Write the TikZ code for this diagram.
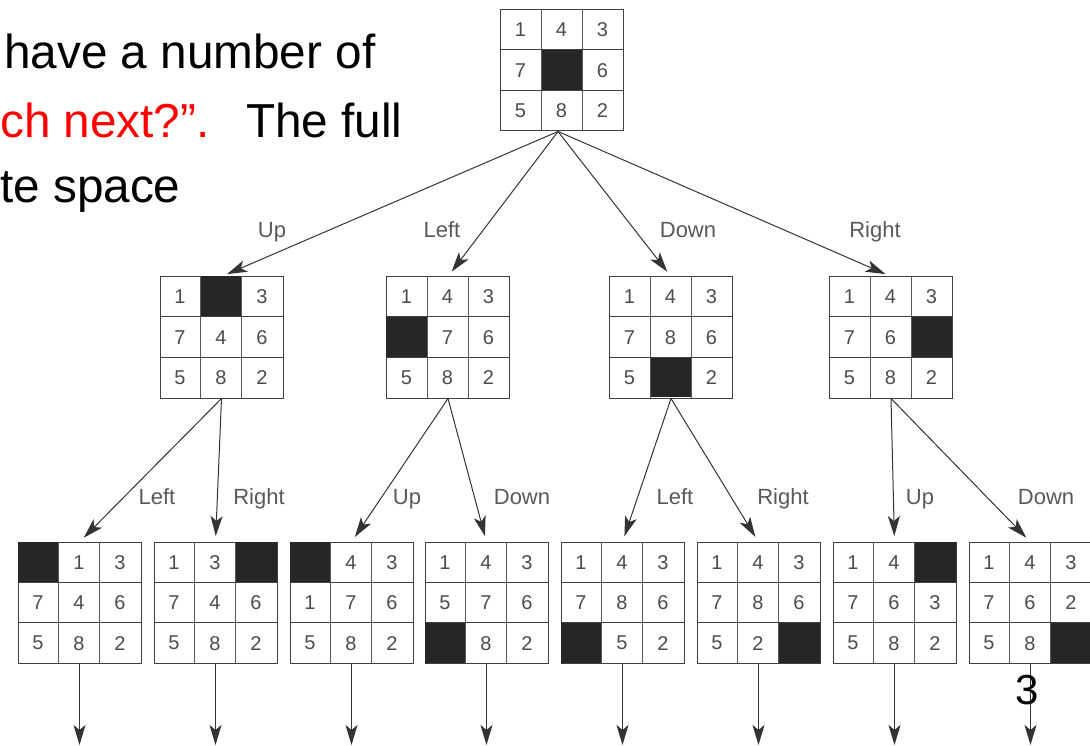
\documentclass[tikz,border=0pt]{standalone}
\usepackage{fontspec}
\setmainfont{Liberation Sans}
\usetikzlibrary{arrows.meta,positioning}

\newcommand{\board}[3]{%
  \node[board] (#1) at (#2) {};
  \begin{scope}[shift={(#1.north west)}]
    \foreach \v [count=\k from 0] in {#3} {
      \pgfmathtruncatemacro{\cc}{mod(\k,3)}
      \pgfmathtruncatemacro{\rr}{div(\k,3)}
      \ifnum\v=0
        \fill[hole] (41*\cc,40.33*\rr) rectangle ++(41,40.33);
      \else
        \node[tile] at (41*\cc+20.5,40.33*\rr+20.5) {\v};
      \fi
    }
    \draw[vline] (41,0) -- (41,121) (82,0) -- (82,121);
    \draw[hline] (0,40.33) -- (123,40.33) (0,80.67) -- (123,80.67);
  \end{scope}
}

\begin{document}
\begin{tikzpicture}[
  x=1pt, y=-1pt,
  board/.style={draw=black!75,line width=1pt,minimum width=123pt,minimum height=121pt,inner sep=0pt},
  hole/.style={fill=black!85},
  tile/.style={text=black!70,font=\fontsize{20}{20}\selectfont,inner sep=0pt},
  vline/.style={draw=black!65,line width=0.6pt},
  hline/.style={draw=black!75,line width=1.1pt},
  lbl/.style={text=black!65,font=\fontsize{22}{22}\selectfont,inner sep=0pt,anchor=base},
  txt/.style={font=\fontsize{47.7}{57}\selectfont,inner sep=0pt,anchor=base west},
  arr/.style={-{Stealth[length=20pt,width=12pt,inset=5pt]},draw=black!80,line width=1pt,shorten >=6pt}
]
\clip (0,0) rectangle (1090,746);

\node[txt] (line1) at (4,69) {have a number of};
\node[txt,text=red] (line2) at (0,138) {ch next?”.};
\node[txt] (line2b) at (246,138) {The full};
\node[txt] (line3) at (0,203) {te space};

\board{top}{562,70.5}{1,4,3,7,0,6,5,8,2}

\board{m1}{221.5,337.5}{1,0,3,7,4,6,5,8,2}
\board{m2}{448,337.5}{1,4,3,0,7,6,5,8,2}
\board{m3}{671,337.5}{1,4,3,7,8,6,5,0,2}
\board{m4}{891,337.5}{1,4,3,7,6,0,5,8,2}

\board{b1}{79.5,603}{0,1,3,7,4,6,5,8,2}
\board{b2}{215.5,603}{1,3,0,7,4,6,5,8,2}
\board{b3}{351.5,603}{0,4,3,1,7,6,5,8,2}
\board{b4}{486.5,603}{1,4,3,5,7,6,0,8,2}
\board{b5}{622.5,603}{1,4,3,7,8,6,0,5,2}
\board{b6}{758.5,603}{1,4,3,7,8,6,5,2,0}
\board{b7}{894.5,603}{1,4,0,7,6,3,5,8,2}
\board{b8}{1030.5,603}{1,4,3,7,6,2,5,8,0}

\foreach \n in {1,...,4}
  \draw[arr] ([xshift=-4pt]top.south) -- (m\n.north);

\draw[arr] (m1.south) -- (b1.north);
\draw[arr] (m1.south) -- (b2.north);
\draw[arr] (m2.south) -- (b3.north);
\draw[arr] (m2.south) -- (b4.north);
\draw[arr] (m3.south) -- (b5.north);
\draw[arr] (m3.south) -- (b6.north);
\draw[arr] (m4.south) -- (b7.north);
\draw[arr] (m4.south) -- (b8.north);

\coordinate (floor) at (0,745);
\foreach \n in {1,...,8}
  \draw[arr,shorten >=0pt] (b\n.south) -- (b\n.south |- floor);

\node[lbl] (up) at (272,238) {Up};
\node[lbl] (left) at (442,238) {Left};
\node[lbl] (down) at (688,238) {Down};
\node[lbl] (right) at (875,238) {Right};

\node[lbl] (l1) at (157,504) {Left};
\node[lbl] (r1) at (259,504) {Right};
\node[lbl] (u2) at (407,504) {Up};
\node[lbl] (d2) at (522,504) {Down};
\node[lbl] (l3) at (675,504) {Left};
\node[lbl] (r3) at (783,504) {Right};
\node[lbl] (u4) at (920,504) {Up};
\node[lbl] (d4) at (1046,504) {Down};

\node[font=\fontsize{42}{42}\selectfont,inner sep=0pt] (pagenum) at (1027,690) {3};
\end{tikzpicture}
\end{document}
